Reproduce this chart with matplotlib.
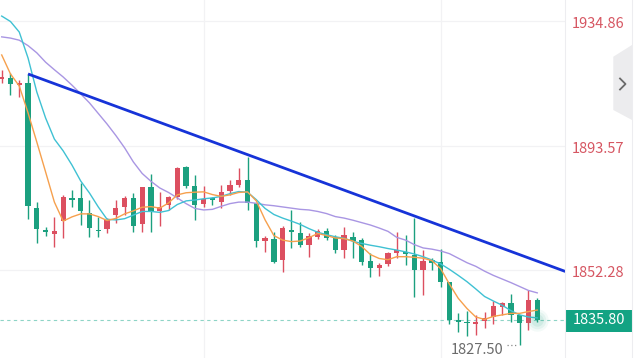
import matplotlib
matplotlib.use("Agg")
import matplotlib.pyplot as plt
from matplotlib.patches import Polygon, Rectangle
from matplotlib.lines import Line2D
import matplotlib.transforms as mtransforms

plt.rcParams['font.family'] = ['Noto Sans CJK SC', 'DejaVu Sans']

# ---------------- data ----------------
opens = [1915.5, 1915.9, 1913.7, 1914.4, 1873.0, 1865.6, 1864.2, 1868.5, 1876.0, 1876.1,
         1871.1, 1865.7, 1865.8, 1870.5, 1873.3, 1876.1, 1867.5, 1879.7, 1871.9, 1873.8,
         1876.6, 1886.5, 1880.1, 1874.2, 1876.0, 1874.9, 1878.5, 1880.5, 1882.1, 1874.4,
         1862.0, 1862.5, 1855.6, 1865.6, 1864.5, 1860.6, 1863.3, 1865.3, 1863.2, 1858.9,
         1863.3, 1862.2, 1855.4, 1852.9, 1854.3, 1857.9, 1858.4, 1857.3, 1852.3, 1855.6,
         1855.0, 1848.2, 1835.5, 1835.1, 1834.3, 1835.4, 1836.8, 1840.1, 1841.2, 1837.4,
         1834.6, 1842.3]
highs = [1918.6, 1917.6, 1915.3, 1917.3, 1874.9, 1866.7, 1870.0, 1877.0, 1878.8, 1881.2,
         1875.5, 1870.0, 1869.4, 1875.5, 1876.8, 1877.9, 1879.9, 1884.1, 1878.3, 1876.8,
         1886.3, 1886.8, 1883.8, 1880.1, 1876.6, 1880.5, 1882.1, 1886.0, 1889.9, 1874.6,
         1863.6, 1865.0, 1866.9, 1872.2, 1868.3, 1864.5, 1865.8, 1866.2, 1863.9, 1866.7,
         1864.9, 1862.9, 1857.9, 1854.6, 1858.2, 1864.9, 1863.9, 1869.4, 1858.9, 1856.3,
         1859.3, 1848.4, 1837.9, 1838.7, 1837.4, 1838.5, 1842.0, 1841.8, 1844.2, 1837.5,
         1845.7, 1843.0]
lows = [1914.3, 1910.3, 1909.7, 1869.2, 1861.1, 1863.6, 1860.0, 1862.8, 1873.3, 1867.2,
        1863.3, 1863.3, 1864.7, 1867.8, 1870.5, 1865.0, 1865.0, 1865.0, 1866.9, 1872.2,
        1875.7, 1879.4, 1868.9, 1873.3, 1873.8, 1872.8, 1877.2, 1879.9, 1872.2, 1859.8,
        1858.4, 1854.5, 1851.7, 1859.5, 1860.0, 1856.7, 1862.5, 1862.2, 1857.9, 1856.2,
        1856.3, 1853.9, 1850.0, 1850.3, 1853.6, 1856.3, 1853.9, 1843.4, 1844.0, 1852.3,
        1846.8, 1834.3, 1831.6, 1830.5, 1830.7, 1833.0, 1834.3, 1837.4, 1835.1, 1827.5,
        1832.4, 1835.0]
closes = [1916.4, 1914.0, 1914.4, 1873.5, 1865.8, 1865.0, 1865.1, 1876.6, 1875.5, 1872.0,
          1866.1, 1865.2, 1868.9, 1872.8, 1876.1, 1866.9, 1879.7, 1871.6, 1873.1, 1876.6,
          1886.0, 1880.1, 1873.8, 1875.7, 1875.5, 1878.3, 1880.5, 1882.1, 1874.4, 1862.0,
          1862.8, 1855.0, 1866.1, 1865.0, 1860.6, 1863.6, 1865.3, 1862.9, 1858.9, 1863.9,
          1862.0, 1855.0, 1852.9, 1853.9, 1858.0, 1858.9, 1857.6, 1852.3, 1855.4, 1854.7,
          1848.3, 1835.7, 1835.2, 1834.8, 1835.1, 1836.3, 1840.4, 1841.2, 1837.4, 1834.6,
          1842.3, 1835.8]

ma_fast = [1923.6, 1917.3, 1913.3, 1904.4, 1894.7, 1884.8, 1874.8, 1868.5, 1869.9, 1870.9,
           1870.9, 1870.0, 1868.7, 1869.4, 1870.9, 1871.9, 1873.1, 1873.3, 1872.8, 1874.5,
           1877.2, 1877.9, 1878.1, 1878.2, 1877.3, 1876.7, 1877.2, 1878.0, 1878.2, 1875.2,
           1868.9, 1863.7, 1862.2, 1861.7, 1861.9, 1863.0, 1864.4, 1863.7, 1862.9, 1862.7,
           1861.9, 1860.1, 1857.4, 1856.1, 1855.7, 1856.7, 1856.7, 1856.5, 1856.2, 1855.4,
           1852.7, 1847.6, 1842.9, 1839.5, 1836.7, 1835.9, 1836.9, 1837.4, 1837.9, 1837.9,
           1838.5, 1839.0]
ma_mid = [1936.5, 1934.7, 1931.2, 1922.6, 1911.3, 1902.7, 1895.7, 1891.8, 1887.1, 1881.8,
          1877.8, 1873.2, 1869.1, 1868.9, 1869.3, 1870.5, 1871.7, 1871.7, 1871.4, 1872.0,
          1874.0, 1875.2, 1875.5, 1875.9, 1876.2, 1876.7, 1877.6, 1878.3, 1878.1, 1875.6,
          1872.7, 1870.7, 1869.5, 1868.5, 1867.4, 1866.0, 1864.8, 1864.0, 1863.3, 1862.8,
          1861.8, 1861.1, 1860.5, 1860.0, 1859.4, 1858.9, 1858.3, 1857.6, 1856.7, 1855.6,
          1854.3, 1852.5, 1850.5, 1848.4, 1846.0, 1843.5, 1842.0, 1840.6, 1838.8, 1837.4,
          1836.7, 1836.4]
ma_slow = [1929.6, 1929.2, 1928.5, 1926.7, 1924.3, 1921.2, 1918.7, 1916.3, 1913.6, 1910.7,
           1907.7, 1904.2, 1900.7, 1896.9, 1892.8, 1888.1, 1884.3, 1881.7, 1879.5, 1878.0,
           1876.2, 1874.3, 1872.7, 1872.2, 1872.4, 1873.4, 1874.3, 1874.8, 1874.8, 1874.4,
           1873.9, 1873.6, 1873.2, 1872.8, 1872.4, 1872.2, 1871.7, 1871.0, 1870.0, 1869.5,
           1868.8, 1868.0, 1867.2, 1866.2, 1865.1, 1863.1, 1862.2, 1860.7, 1859.6, 1859.2,
           1858.6, 1857.7, 1856.2, 1854.7, 1853.5, 1851.9, 1850.5, 1849.3, 1848.1, 1846.8,
           1845.5, 1844.7]

trend_idx = [3, 64.2]
trend_val = [1917.3, 1851.8]

axis_labels = [1934.86, 1893.57, 1852.28]
last_price = 1835.80
low_price = 1827.50
low_idx = 59

# ---------------- styling ----------------
GREEN = '#1ba07f'
RED = '#dc4f60'
W, H = 640, 358
fig = plt.figure(figsize=(W / 100, H / 100), dpi=100)
fig.patch.set_facecolor('white')
AX_W = 565
ax = fig.add_axes([0, 0, AX_W / W, 1])
ax.set_facecolor('white')
for s in ax.spines.values():
    s.set_visible(False)
ax.set_xticks([])
ax.set_yticks([])
ax.set_xlim(-0.194, 64.16)
ax.set_ylim(1823.1, 1941.83)

# grid
for v in axis_labels:
    ax.axhline(v, color='#f2f2f4', lw=0.9, zorder=0)
for gx in [23, 50]:
    ax.axvline(gx, color='#f2f2f4', lw=0.9, zorder=0)

# candles
n = len(opens)
for i in range(n):
    o, h, l, c = opens[i], highs[i], lows[i], closes[i]
    col = RED if c >= o else GREEN
    ax.vlines(i, l, h, color=col, lw=1.0, zorder=3)
    bottom = min(o, c)
    height = max(abs(c - o), 0.35)
    ax.bar(i, height, bottom=bottom, width=0.6, color=col, edgecolor=col, lw=0, zorder=3)

xs = list(range(n))
ax.plot(xs, ma_slow, color='#a996e3', lw=1.0, zorder=4)
ax.plot(xs, ma_mid, color='#3fc1d3', lw=1.0, zorder=4)
ax.plot(xs, ma_fast, color='#f6a04d', lw=1.0, zorder=4)

# trend line
ax.plot(trend_idx, trend_val, color='#1633d8', lw=2.0, solid_capstyle='butt', zorder=5)

# last price dashed line
ax.axhline(last_price, color='#8ed4c6', lw=0.8, ls=(0, (3, 3)), zorder=2)

# glow at last candle
for s, a in [(260, 0.05), (160, 0.07), (80, 0.09)]:
    ax.scatter([n - 1], [last_price], s=s, color=GREEN, alpha=a, lw=0, zorder=6)

# low annotation
ax.plot([low_idx - 1.5, low_idx - 0.15], [low_price, low_price], color='#888888',
        lw=0.9, ls=(0, (1, 2)), zorder=6)
ax.annotate(f'{low_price:.2f}', xy=(low_idx, low_price), xytext=(-12, -4),
            textcoords='offset points', ha='right', va='center', fontsize=10.5,
            color='#6b6b6b', annotation_clip=False, zorder=7)

# right axis area
trans = mtransforms.blended_transform_factory(ax.transAxes, ax.transData)
off = mtransforms.ScaledTranslation(0, -3 / 100, fig.dpi_scale_trans)
for v in axis_labels:
    ax.text(572 / AX_W, v, f'{v:.2f}', transform=trans + off, ha='left', va='center',
            fontsize=10.5, color='#d65662', clip_on=False)

# separators
fig.add_artist(Line2D([AX_W / W, AX_W / W], [0, 1], color='#ededf0', lw=0.8))
fig.add_artist(Line2D([632 / W, 632 / W], [0, 1], color='#ededf0', lw=0.8))

# last price box
fig.add_artist(Rectangle((AX_W / W, 1 - 331.5 / H), (632 - AX_W) / W, 21.5 / H,
                         transform=fig.transFigure, color='#13a383', lw=0))
fig.text(598.5 / W, 1 - 320.5 / H, f'{last_price:.2f}', ha='center', va='center',
         fontsize=10.5, color='white')

# collapse tab
tab = [(632, 45), (613.3, 56.7), (613.3, 110), (632, 120)]
fig.add_artist(Polygon([(x / W, 1 - y / H) for x, y in tab], closed=True,
                       transform=fig.transFigure, color='#ececee', lw=0))
chev = [(620, 78.5), (625.5, 84), (620, 89.5)]
fig.add_artist(Line2D([p[0] / W for p in chev], [1 - p[1] / H for p in chev],
                      color='#6a6a6a', lw=1.3))

fig.savefig('out.png', dpi=100, facecolor='white')
